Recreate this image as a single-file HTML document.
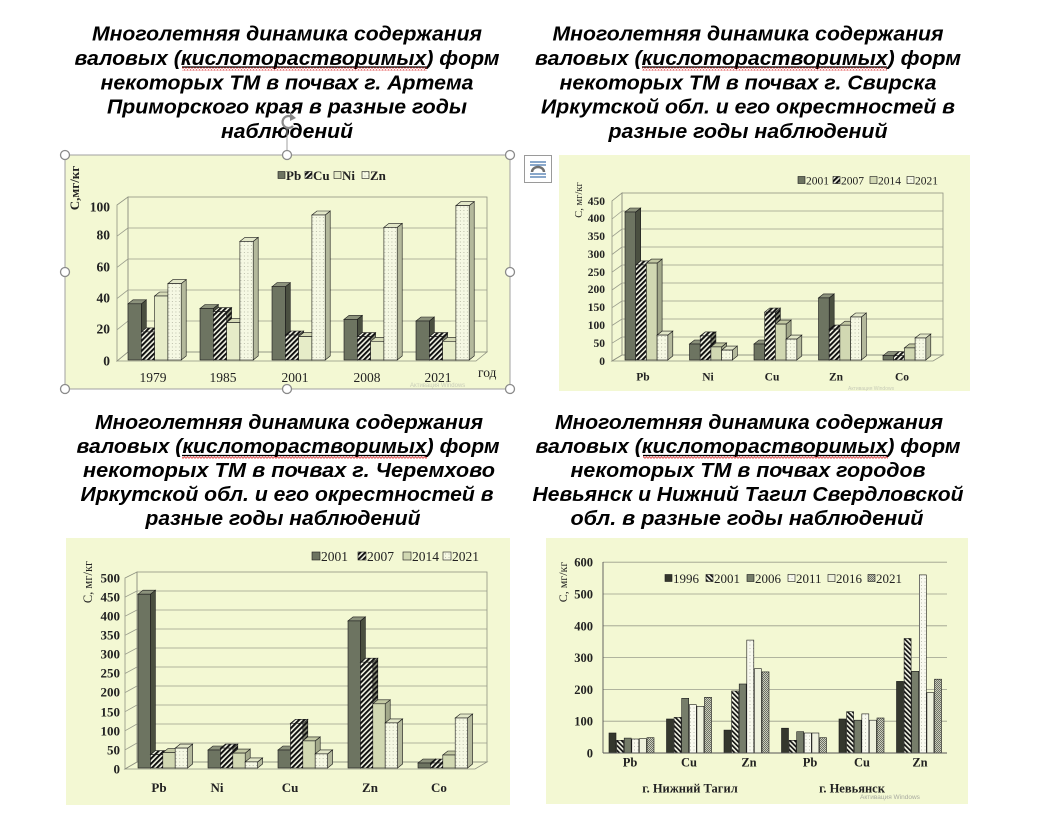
<!DOCTYPE html>
<html><head><meta charset="utf-8"><style>
html,body{margin:0;padding:0;background:#fff;}
svg{display:block;}
.ttl{font-family:"Liberation Sans",Arial,sans-serif;font-weight:bold;font-style:italic;font-size:20px;fill:#000;}
.sf{font-family:"Liberation Serif","Times New Roman",serif;fill:#222;}
.b{font-weight:bold;}
.bar polygon,.bar rect{stroke:#1a1a1a;stroke-width:0.6;}
.df{fill:#6d7461}.ds{fill:#4a4f40}.dt{fill:#8c927c}
.hf{fill:url(#hatch)}.hs{fill:url(#hatchS)}.ht{fill:url(#hatch)}
.nf{fill:#e6ecc8}.ns{fill:#b9bea0}.nt{fill:#d6dbb7}
.lf{fill:#d1d8b2}.ls{fill:#a3a98b}.lt{fill:#c2c8a3}
.of{fill:url(#dots)}.os{fill:#b4b99c}.ot{fill:#e2e7c8}
.c1{fill:#34372d}.c2{fill:url(#hatch4)}.c3{fill:#767d6a}.c4{fill:url(#dots4)}.c5{fill:#eef1dd}.c6{fill:url(#chk)}
.wall{fill:none;stroke:#8f9282;stroke-width:0.8;}
.grid{stroke:#9a9d8c;stroke-width:0.8;}
</style></head><body>
<svg width="1052" height="835" viewBox="0 0 1052 835" xmlns="http://www.w3.org/2000/svg">
<defs>
<pattern id="hatch" width="3.6" height="3.6" patternUnits="userSpaceOnUse" patternTransform="rotate(45)"><rect width="3.6" height="3.6" fill="#f4f6e6"/><rect width="2" height="3.6" fill="#111"/></pattern>
<pattern id="hatchS" width="3.6" height="3.6" patternUnits="userSpaceOnUse" patternTransform="rotate(45)"><rect width="3.6" height="3.6" fill="#8a8e7a"/><rect width="2" height="3.6" fill="#111"/></pattern>
<pattern id="hatch4" width="3.4" height="3.4" patternUnits="userSpaceOnUse" patternTransform="rotate(-45)"><rect width="3.4" height="3.4" fill="#f4f6e6"/><rect width="1.7" height="3.4" fill="#111"/></pattern>
<pattern id="dots" width="3.5" height="3.5" patternUnits="userSpaceOnUse"><rect width="3.5" height="3.5" fill="#f5f8e3"/><circle cx="1" cy="1" r="0.45" fill="#a3a692"/></pattern>
<pattern id="dots4" width="3.5" height="3.5" patternUnits="userSpaceOnUse"><rect width="3.5" height="3.5" fill="#f8f9ee"/><circle cx="1" cy="1" r="0.45" fill="#a6a89c"/></pattern>
<pattern id="chk" width="2" height="2" patternUnits="userSpaceOnUse"><rect width="2" height="2" fill="#c9ccbd"/><rect width="1" height="1" fill="#6e7164"/><rect x="1" y="1" width="1" height="1" fill="#6e7164"/></pattern>
<pattern id="wavy" width="3" height="3" patternUnits="userSpaceOnUse"><path d="M0,2.5 L1.5,0.6 L3,2.5" stroke="#e03030" fill="none" stroke-width="0.7"/></pattern>
</defs>

<!-- ===== TITLES ===== -->
<g class="ttl" text-anchor="middle">
<text x="287" y="40.5" textLength="390" lengthAdjust="spacingAndGlyphs">Многолетняя динамика содержания</text>
<text x="287" y="64.9" textLength="425" lengthAdjust="spacingAndGlyphs">валовых (кислоторастворимых) форм</text>
<text x="287" y="89.3" textLength="373" lengthAdjust="spacingAndGlyphs">некоторых ТМ в почвах г. Артема</text>
<text x="287" y="113.7" textLength="360" lengthAdjust="spacingAndGlyphs">Приморского края в разные годы</text>
<text x="287" y="138.1" textLength="132" lengthAdjust="spacingAndGlyphs">наблюдений</text>

<text x="748" y="40.5" textLength="391" lengthAdjust="spacingAndGlyphs">Многолетняя динамика содержания</text>
<text x="748" y="64.9" textLength="426" lengthAdjust="spacingAndGlyphs">валовых (кислоторастворимых) форм</text>
<text x="748" y="89.3" textLength="377" lengthAdjust="spacingAndGlyphs">некоторых ТМ в почвах г. Свирска</text>
<text x="748" y="113.7" textLength="414" lengthAdjust="spacingAndGlyphs">Иркутской обл. и его окрестностей в</text>
<text x="748" y="138.1" textLength="279" lengthAdjust="spacingAndGlyphs">разные годы наблюдений</text>

<text x="289" y="429" textLength="388" lengthAdjust="spacingAndGlyphs">Многолетняя динамика содержания</text>
<text x="288" y="453" textLength="423" lengthAdjust="spacingAndGlyphs">валовых (кислоторастворимых) форм</text>
<text x="289" y="477" textLength="412" lengthAdjust="spacingAndGlyphs">некоторых ТМ в почвах г. Черемхово</text>
<text x="287" y="501" textLength="413" lengthAdjust="spacingAndGlyphs">Иркутской обл. и его окрестностей в</text>
<text x="283" y="525" textLength="275" lengthAdjust="spacingAndGlyphs">разные годы наблюдений</text>

<text x="749" y="429" textLength="388" lengthAdjust="spacingAndGlyphs">Многолетняя динамика содержания</text>
<text x="748" y="453" textLength="425" lengthAdjust="spacingAndGlyphs">валовых (кислоторастворимых) форм</text>
<text x="748" y="477" textLength="355" lengthAdjust="spacingAndGlyphs">некоторых ТМ в почвах городов</text>
<text x="748" y="501" textLength="431" lengthAdjust="spacingAndGlyphs">Невьянск и Нижний Тагил Свердловской</text>
<text x="747" y="525" textLength="353" lengthAdjust="spacingAndGlyphs">обл. в разные годы наблюдений</text>
</g>
<!-- underlines -->
<g stroke="#000" stroke-width="1.2">
<line x1="182" y1="67" x2="427" y2="67"/>
<line x1="642" y1="67" x2="887" y2="67"/>
<line x1="182" y1="455.5" x2="427" y2="455.5"/>
<line x1="643" y1="455.5" x2="887" y2="455.5"/>
</g>
<rect x="182" y="67.5" width="245" height="3" fill="url(#wavy)"/>
<rect x="642" y="67.5" width="245" height="3" fill="url(#wavy)"/>
<rect x="182" y="456" width="245" height="3" fill="url(#wavy)"/>
<rect x="643" y="456" width="245" height="3" fill="url(#wavy)"/>

<!-- ===== CHART 1 (Artem) ===== -->
<rect x="65" y="155" width="445" height="234" fill="#f3f8d3"/>
<polygon class="wall" points="117,361 117,205 128,197 128,352"/>
<rect class="wall" x="128" y="197" width="359" height="155"/>
<polygon class="wall" points="117,361 128,352 487,352 476,361"/>
<g class="grid">
<line x1="128" y1="321" x2="487" y2="321"/><line x1="128" y1="290" x2="487" y2="290"/>
<line x1="128" y1="259" x2="487" y2="259"/><line x1="128" y1="228" x2="487" y2="228"/>
<line x1="117" y1="329.8" x2="128" y2="321"/><line x1="117" y1="298.6" x2="128" y2="290"/>
<line x1="117" y1="267.4" x2="128" y2="259"/><line x1="117" y1="236.2" x2="128" y2="228"/>
</g>
<g class="bar">
<g transform="translate(128,360)"><polygon class="ds" points="13.3,-56.2 18.3,-60.2 18.3,-4 13.3,0"/><polygon class="dt" points="0,-56.2 5,-60.2 18.3,-60.2 13.3,-56.2"/><rect class="df" x="0" y="-56.2" width="13.3" height="56.2"/></g>
<g transform="translate(141.3,360)"><polygon class="hs" points="13.3,-28.1 18.3,-32.1 18.3,-4 13.3,0"/><polygon class="ht" points="0,-28.1 5,-32.1 18.3,-32.1 13.3,-28.1"/><rect class="hf" x="0" y="-28.1" width="13.3" height="28.1"/></g>
<g transform="translate(154.6,360)"><polygon class="ns" points="13.3,-64 18.3,-68 18.3,-4 13.3,0"/><polygon class="nt" points="0,-64 5,-68 18.3,-68 13.3,-64"/><rect class="nf" x="0" y="-64" width="13.3" height="64"/></g>
<g transform="translate(167.9,360)"><polygon class="os" points="13.3,-76.4 18.3,-80.4 18.3,-4 13.3,0"/><polygon class="ot" points="0,-76.4 5,-80.4 18.3,-80.4 13.3,-76.4"/><rect class="of" x="0" y="-76.4" width="13.3" height="76.4"/></g>

<g transform="translate(200,360)"><polygon class="ds" points="13.3,-51.5 18.3,-55.5 18.3,-4 13.3,0"/><polygon class="dt" points="0,-51.5 5,-55.5 18.3,-55.5 13.3,-51.5"/><rect class="df" x="0" y="-51.5" width="13.3" height="51.5"/></g>
<g transform="translate(213.3,360)"><polygon class="hs" points="13.3,-48.4 18.3,-52.4 18.3,-4 13.3,0"/><polygon class="ht" points="0,-48.4 5,-52.4 18.3,-52.4 13.3,-48.4"/><rect class="hf" x="0" y="-48.4" width="13.3" height="48.4"/></g>
<g transform="translate(226.6,360)"><polygon class="ns" points="13.3,-37.4 18.3,-41.4 18.3,-4 13.3,0"/><polygon class="nt" points="0,-37.4 5,-41.4 18.3,-41.4 13.3,-37.4"/><rect class="nf" x="0" y="-37.4" width="13.3" height="37.4"/></g>
<g transform="translate(239.9,360)"><polygon class="os" points="13.3,-118.6 18.3,-122.6 18.3,-4 13.3,0"/><polygon class="ot" points="0,-118.6 5,-122.6 18.3,-122.6 13.3,-118.6"/><rect class="of" x="0" y="-118.6" width="13.3" height="118.6"/></g>

<g transform="translate(272,360)"><polygon class="ds" points="13.3,-73.3 18.3,-77.3 18.3,-4 13.3,0"/><polygon class="dt" points="0,-73.3 5,-77.3 18.3,-77.3 13.3,-73.3"/><rect class="df" x="0" y="-73.3" width="13.3" height="73.3"/></g>
<g transform="translate(285.3,360)"><polygon class="hs" points="13.3,-25 18.3,-29 18.3,-4 13.3,0"/><polygon class="ht" points="0,-25 5,-29 18.3,-29 13.3,-25"/><rect class="hf" x="0" y="-25" width="13.3" height="25"/></g>
<g transform="translate(298.6,360)"><polygon class="ns" points="13.3,-23.4 18.3,-27.4 18.3,-4 13.3,0"/><polygon class="nt" points="0,-23.4 5,-27.4 18.3,-27.4 13.3,-23.4"/><rect class="nf" x="0" y="-23.4" width="13.3" height="23.4"/></g>
<g transform="translate(311.9,360)"><polygon class="os" points="13.3,-145 18.3,-149 18.3,-4 13.3,0"/><polygon class="ot" points="0,-145 5,-149 18.3,-149 13.3,-145"/><rect class="of" x="0" y="-145" width="13.3" height="145"/></g>

<g transform="translate(344,360)"><polygon class="ds" points="13.3,-40.6 18.3,-44.6 18.3,-4 13.3,0"/><polygon class="dt" points="0,-40.6 5,-44.6 18.3,-44.6 13.3,-40.6"/><rect class="df" x="0" y="-40.6" width="13.3" height="40.6"/></g>
<g transform="translate(357.3,360)"><polygon class="hs" points="13.3,-23.4 18.3,-27.4 18.3,-4 13.3,0"/><polygon class="ht" points="0,-23.4 5,-27.4 18.3,-27.4 13.3,-23.4"/><rect class="hf" x="0" y="-23.4" width="13.3" height="23.4"/></g>
<g transform="translate(370.6,360)"><polygon class="ns" points="13.3,-18.7 18.3,-22.7 18.3,-4 13.3,0"/><polygon class="nt" points="0,-18.7 5,-22.7 18.3,-22.7 13.3,-18.7"/><rect class="nf" x="0" y="-18.7" width="13.3" height="18.7"/></g>
<g transform="translate(383.9,360)"><polygon class="os" points="13.3,-132.6 18.3,-136.6 18.3,-4 13.3,0"/><polygon class="ot" points="0,-132.6 5,-136.6 18.3,-136.6 13.3,-132.6"/><rect class="of" x="0" y="-132.6" width="13.3" height="132.6"/></g>

<g transform="translate(416,360)"><polygon class="ds" points="13.3,-39 18.3,-43 18.3,-4 13.3,0"/><polygon class="dt" points="0,-39 5,-43 18.3,-43 13.3,-39"/><rect class="df" x="0" y="-39" width="13.3" height="39"/></g>
<g transform="translate(429.3,360)"><polygon class="hs" points="13.3,-23.4 18.3,-27.4 18.3,-4 13.3,0"/><polygon class="ht" points="0,-23.4 5,-27.4 18.3,-27.4 13.3,-23.4"/><rect class="hf" x="0" y="-23.4" width="13.3" height="23.4"/></g>
<g transform="translate(442.6,360)"><polygon class="ns" points="13.3,-18.7 18.3,-22.7 18.3,-4 13.3,0"/><polygon class="nt" points="0,-18.7 5,-22.7 18.3,-22.7 13.3,-18.7"/><rect class="nf" x="0" y="-18.7" width="13.3" height="18.7"/></g>
<g transform="translate(455.9,360)"><polygon class="os" points="13.3,-154.4 18.3,-158.4 18.3,-4 13.3,0"/><polygon class="ot" points="0,-154.4 5,-158.4 18.3,-158.4 13.3,-154.4"/><rect class="of" x="0" y="-154.4" width="13.3" height="154.4"/></g>
</g>
<g class="sf b" font-size="13.5" text-anchor="end">
<text x="110" y="365.5">0</text><text x="110" y="333.5">20</text><text x="110" y="302.5">40</text>
<text x="110" y="271.5">60</text><text x="110" y="239.5">80</text><text x="110" y="211.5">100</text>
</g>
<g class="sf" font-size="13.5" text-anchor="middle">
<text x="153" y="382">1979</text><text x="223" y="382">1985</text><text x="295" y="382">2001</text>
<text x="367" y="382">2008</text><text x="438" y="382">2021</text>
</g>
<text class="sf" font-size="13.5" x="478" y="377">год</text>
<text class="sf b" font-size="13" transform="translate(79,188) rotate(-90)" text-anchor="middle">С,мг/кг</text>
<g class="bar">
<rect class="df" x="278" y="171.5" width="7" height="7"/>
<rect class="hf" x="305" y="171.5" width="7" height="7"/>
<rect class="nf" x="334" y="171.5" width="7" height="7"/>
<rect class="of" x="362" y="171.5" width="7" height="7"/>
</g>
<g class="sf b" font-size="13">
<text x="286" y="180">Pb</text><text x="313" y="180">Cu</text><text x="342" y="180">Ni</text><text x="370" y="180">Zn</text>
</g>
<text x="410" y="387" font-family="Liberation Sans,sans-serif" font-size="6" fill="#c8ccb8">Активация Windows</text>
<!-- selection frame -->
<rect x="65" y="155" width="445" height="234" fill="none" stroke="#a0a0a0" stroke-width="1"/>
<line x1="287" y1="128" x2="287" y2="155" stroke="#a0a0a0" stroke-width="1"/>
<g fill="#fff" stroke="#8a8a8a" stroke-width="1.3">
<circle cx="65" cy="155" r="4.5"/><circle cx="287" cy="155" r="4.5"/><circle cx="510" cy="155" r="4.5"/>
<circle cx="65" cy="272" r="4.5"/><circle cx="510" cy="272" r="4.5"/>
<circle cx="65" cy="389" r="4.5"/><circle cx="287" cy="389" r="4.5"/><circle cx="510" cy="389" r="4.5"/>
</g>
<g fill="none" stroke="#8a8a8a" stroke-width="2.2">
<path d="M293,118 A6,6 0 1 0 293,126"/>
</g>
<polygon points="290,113 296,118 290,121" fill="#8a8a8a"/>

<!-- ===== CHART 2 (Svirsk) ===== -->
<rect x="524.5" y="155.5" width="27" height="27" fill="#fff" stroke="#9a9a9a" stroke-width="1"/>
<g stroke="#3c6ea8" stroke-width="1.2">
<line x1="530" y1="162" x2="546" y2="162"/><line x1="530" y1="165" x2="546" y2="165"/>
<line x1="530" y1="174" x2="546" y2="174"/><line x1="530" y1="177" x2="546" y2="177"/>
</g>
<path d="M532,172 A6,5 0 0 1 544,172" fill="none" stroke="#707070" stroke-width="2.5"/>

<rect x="559" y="155" width="411" height="236" fill="#f3f8d3"/>
<polygon class="wall" points="612,361 612,201 622,193 622,355"/>
<rect class="wall" x="622" y="193" width="321" height="162"/>
<polygon class="wall" points="612,361 622,355 943,355 933,361"/>
<g class="grid">
<line x1="622" y1="337" x2="943" y2="337"/><line x1="622" y1="319" x2="943" y2="319"/>
<line x1="622" y1="301" x2="943" y2="301"/><line x1="622" y1="283" x2="943" y2="283"/>
<line x1="622" y1="265" x2="943" y2="265"/><line x1="622" y1="247" x2="943" y2="247"/>
<line x1="622" y1="229" x2="943" y2="229"/><line x1="622" y1="211" x2="943" y2="211"/>
<line x1="612" y1="343.2" x2="622" y2="337"/><line x1="612" y1="325.5" x2="622" y2="319"/>
<line x1="612" y1="307.7" x2="622" y2="301"/><line x1="612" y1="290" x2="622" y2="283"/>
<line x1="612" y1="272.2" x2="622" y2="265"/><line x1="612" y1="254.5" x2="622" y2="247"/>
<line x1="612" y1="236.7" x2="622" y2="229"/><line x1="612" y1="219" x2="622" y2="211"/>
</g>
<g class="bar">
<g transform="translate(625,360)"><polygon class="ds" points="10.7,-148 15.7,-152 15.7,-4 10.7,0"/><polygon class="dt" points="0,-148 5,-152 15.7,-152 10.7,-148"/><rect class="df" x="0" y="-148" width="10.7" height="148"/></g>
<g transform="translate(635.7,360)"><polygon class="hs" points="10.7,-95.1 15.7,-99.1 15.7,-4 10.7,0"/><polygon class="ht" points="0,-95.1 5,-99.1 15.7,-99.1 10.7,-95.1"/><rect class="hf" x="0" y="-95.1" width="10.7" height="95.1"/></g>
<g transform="translate(646.4,360)"><polygon class="ls" points="10.7,-96.9 15.7,-100.9 15.7,-4 10.7,0"/><polygon class="lt" points="0,-96.9 5,-100.9 15.7,-100.9 10.7,-96.9"/><rect class="lf" x="0" y="-96.9" width="10.7" height="96.9"/></g>
<g transform="translate(657.1,360)"><polygon class="os" points="10.7,-24.9 15.7,-28.9 15.7,-4 10.7,0"/><polygon class="ot" points="0,-24.9 5,-28.9 15.7,-28.9 10.7,-24.9"/><rect class="of" x="0" y="-24.9" width="10.7" height="24.9"/></g>

<g transform="translate(689.5,360)"><polygon class="ds" points="10.7,-16 15.7,-20 15.7,-4 10.7,0"/><polygon class="dt" points="0,-16 5,-20 15.7,-20 10.7,-16"/><rect class="df" x="0" y="-16" width="10.7" height="16"/></g>
<g transform="translate(700.2,360)"><polygon class="hs" points="10.7,-24.1 15.7,-28.1 15.7,-4 10.7,0"/><polygon class="ht" points="0,-24.1 5,-28.1 15.7,-28.1 10.7,-24.1"/><rect class="hf" x="0" y="-24.1" width="10.7" height="24.1"/></g>
<g transform="translate(710.9,360)"><polygon class="ls" points="10.7,-13.1 15.7,-17.1 15.7,-4 10.7,0"/><polygon class="lt" points="0,-13.1 5,-17.1 15.7,-17.1 10.7,-13.1"/><rect class="lf" x="0" y="-13.1" width="10.7" height="13.1"/></g>
<g transform="translate(721.6,360)"><polygon class="os" points="10.7,-9.9 15.7,-13.9 15.7,-4 10.7,0"/><polygon class="ot" points="0,-9.9 5,-13.9 15.7,-13.9 10.7,-9.9"/><rect class="of" x="0" y="-9.9" width="10.7" height="9.9"/></g>

<g transform="translate(754,360)"><polygon class="ds" points="10.7,-16 15.7,-20 15.7,-4 10.7,0"/><polygon class="dt" points="0,-16 5,-20 15.7,-20 10.7,-16"/><rect class="df" x="0" y="-16" width="10.7" height="16"/></g>
<g transform="translate(764.7,360)"><polygon class="hs" points="10.7,-47.9 15.7,-51.9 15.7,-4 10.7,0"/><polygon class="ht" points="0,-47.9 5,-51.9 15.7,-51.9 10.7,-47.9"/><rect class="hf" x="0" y="-47.9" width="10.7" height="47.9"/></g>
<g transform="translate(775.4,360)"><polygon class="ls" points="10.7,-35.9 15.7,-39.9 15.7,-4 10.7,0"/><polygon class="lt" points="0,-35.9 5,-39.9 15.7,-39.9 10.7,-35.9"/><rect class="lf" x="0" y="-35.9" width="10.7" height="35.9"/></g>
<g transform="translate(786.1,360)"><polygon class="os" points="10.7,-20.9 15.7,-24.9 15.7,-4 10.7,0"/><polygon class="ot" points="0,-20.9 5,-24.9 15.7,-24.9 10.7,-20.9"/><rect class="of" x="0" y="-20.9" width="10.7" height="20.9"/></g>

<g transform="translate(818.5,360)"><polygon class="ds" points="10.7,-62.1 15.7,-66.1 15.7,-4 10.7,0"/><polygon class="dt" points="0,-62.1 5,-66.1 15.7,-66.1 10.7,-62.1"/><rect class="df" x="0" y="-62.1" width="10.7" height="62.1"/></g>
<g transform="translate(829.2,360)"><polygon class="hs" points="10.7,-30.9 15.7,-34.9 15.7,-4 10.7,0"/><polygon class="ht" points="0,-30.9 5,-34.9 15.7,-34.9 10.7,-30.9"/><rect class="hf" x="0" y="-30.9" width="10.7" height="30.9"/></g>
<g transform="translate(839.9,360)"><polygon class="ls" points="10.7,-34.8 15.7,-38.8 15.7,-4 10.7,0"/><polygon class="lt" points="0,-34.8 5,-38.8 15.7,-38.8 10.7,-34.8"/><rect class="lf" x="0" y="-34.8" width="10.7" height="34.8"/></g>
<g transform="translate(850.6,360)"><polygon class="os" points="10.7,-43 15.7,-47 15.7,-4 10.7,0"/><polygon class="ot" points="0,-43 5,-47 15.7,-47 10.7,-43"/><rect class="of" x="0" y="-43" width="10.7" height="43"/></g>

<g transform="translate(883,360)"><polygon class="ds" points="10.7,-4.3 15.7,-8.3 15.7,-4 10.7,0"/><polygon class="dt" points="0,-4.3 5,-8.3 15.7,-8.3 10.7,-4.3"/><rect class="df" x="0" y="-4.3" width="10.7" height="4.3"/></g>
<g transform="translate(893.7,360)"><polygon class="hs" points="10.7,-4.3 15.7,-8.3 15.7,-4 10.7,0"/><polygon class="ht" points="0,-4.3 5,-8.3 15.7,-8.3 10.7,-4.3"/><rect class="hf" x="0" y="-4.3" width="10.7" height="4.3"/></g>
<g transform="translate(904.4,360)"><polygon class="ls" points="10.7,-12.1 15.7,-16.1 15.7,-4 10.7,0"/><polygon class="lt" points="0,-12.1 5,-16.1 15.7,-16.1 10.7,-12.1"/><rect class="lf" x="0" y="-12.1" width="10.7" height="12.1"/></g>
<g transform="translate(915.1,360)"><polygon class="os" points="10.7,-22 15.7,-26 15.7,-4 10.7,0"/><polygon class="ot" points="0,-22 5,-26 15.7,-26 10.7,-22"/><rect class="of" x="0" y="-22" width="10.7" height="22"/></g>
</g>
<g class="sf b" font-size="11.5" text-anchor="end">
<text x="605" y="365">0</text><text x="605" y="347">50</text><text x="605" y="329">100</text>
<text x="605" y="311">150</text><text x="605" y="293">200</text><text x="605" y="276">250</text>
<text x="605" y="258">300</text><text x="605" y="240">350</text><text x="605" y="222">400</text><text x="605" y="205">450</text>
</g>
<g class="sf b" font-size="11.5" text-anchor="middle">
<text x="643" y="380.5">Pb</text><text x="708" y="380.5">Ni</text><text x="772" y="380.5">Cu</text>
<text x="836" y="380.5">Zn</text><text x="902" y="380.5">Co</text>
</g>
<text class="sf" font-size="10.5" transform="translate(582,200) rotate(-90)" text-anchor="middle">С, мг/кг</text>
<g class="bar">
<rect class="df" x="798" y="176.5" width="7" height="7"/>
<rect class="hf" x="833" y="176.5" width="7" height="7"/>
<rect class="lf" x="870" y="176.5" width="7" height="7"/>
<rect class="of" x="907" y="176.5" width="7" height="7"/>
</g>
<g class="sf" font-size="11.5">
<text x="806" y="184.5">2001</text><text x="841" y="184.5">2007</text><text x="878" y="184.5">2014</text><text x="915" y="184.5">2021</text>
</g>
<text x="848" y="390" font-family="Liberation Sans,sans-serif" font-size="5" fill="#c8ccb8">Активация Windows</text>

<!-- ===== CHART 3 (Cheremkhovo) ===== -->
<rect x="66" y="538" width="444" height="267" fill="#f3f8d3"/>
<polygon class="wall" points="125,769 125,578 137,572 137,762"/>
<rect class="wall" x="137" y="572" width="350" height="190"/>
<polygon class="wall" points="125,769 137,762 487,762 475,769"/>
<g class="grid">
<line x1="137" y1="743" x2="487" y2="743"/><line x1="137" y1="724" x2="487" y2="724"/>
<line x1="137" y1="705" x2="487" y2="705"/><line x1="137" y1="686" x2="487" y2="686"/>
<line x1="137" y1="667" x2="487" y2="667"/><line x1="137" y1="648" x2="487" y2="648"/>
<line x1="137" y1="629" x2="487" y2="629"/><line x1="137" y1="610" x2="487" y2="610"/>
<line x1="137" y1="591" x2="487" y2="591"/>
<line x1="125" y1="749.9" x2="137" y2="743"/><line x1="125" y1="730.8" x2="137" y2="724"/>
<line x1="125" y1="711.7" x2="137" y2="705"/><line x1="125" y1="692.6" x2="137" y2="686"/>
<line x1="125" y1="673.5" x2="137" y2="667"/><line x1="125" y1="654.4" x2="137" y2="648"/>
<line x1="125" y1="635.3" x2="137" y2="629"/><line x1="125" y1="616.2" x2="137" y2="610"/>
<line x1="125" y1="597.1" x2="137" y2="591"/>
</g>
<g class="bar">
<g transform="translate(138,768)"><polygon class="ds" points="12.4,-173.8 17.4,-177.8 17.4,-4 12.4,0"/><polygon class="dt" points="0,-173.8 5,-177.8 17.4,-177.8 12.4,-173.8"/><rect class="df" x="0" y="-173.8" width="12.4" height="173.8"/></g>
<g transform="translate(150.4,768)"><polygon class="hs" points="12.4,-13.4 17.4,-17.4 17.4,-4 12.4,0"/><polygon class="ht" points="0,-13.4 5,-17.4 17.4,-17.4 12.4,-13.4"/><rect class="hf" x="0" y="-13.4" width="12.4" height="13.4"/></g>
<g transform="translate(162.8,768)"><polygon class="ls" points="12.4,-15.3 17.4,-19.3 17.4,-4 12.4,0"/><polygon class="lt" points="0,-15.3 5,-19.3 17.4,-19.3 12.4,-15.3"/><rect class="lf" x="0" y="-15.3" width="12.4" height="15.3"/></g>
<g transform="translate(175.2,768)"><polygon class="os" points="12.4,-19.9 17.4,-23.9 17.4,-4 12.4,0"/><polygon class="ot" points="0,-19.9 5,-23.9 17.4,-23.9 12.4,-19.9"/><rect class="of" x="0" y="-19.9" width="12.4" height="19.9"/></g>

<g transform="translate(208,768)"><polygon class="ds" points="12.4,-18 17.4,-22 17.4,-4 12.4,0"/><polygon class="dt" points="0,-18 5,-22 17.4,-22 12.4,-18"/><rect class="df" x="0" y="-18" width="12.4" height="18"/></g>
<g transform="translate(220.4,768)"><polygon class="hs" points="12.4,-19.9 17.4,-23.9 17.4,-4 12.4,0"/><polygon class="ht" points="0,-19.9 5,-23.9 17.4,-23.9 12.4,-19.9"/><rect class="hf" x="0" y="-19.9" width="12.4" height="19.9"/></g>
<g transform="translate(232.8,768)"><polygon class="ls" points="12.4,-14.9 17.4,-18.9 17.4,-4 12.4,0"/><polygon class="lt" points="0,-14.9 5,-18.9 17.4,-18.9 12.4,-14.9"/><rect class="lf" x="0" y="-14.9" width="12.4" height="14.9"/></g>
<g transform="translate(245.2,768)"><polygon class="os" points="12.4,-6.1 17.4,-10.1 17.4,-4 12.4,0"/><polygon class="ot" points="0,-6.1 5,-10.1 17.4,-10.1 12.4,-6.1"/><rect class="of" x="0" y="-6.1" width="12.4" height="6.1"/></g>

<g transform="translate(278,768)"><polygon class="ds" points="12.4,-18 17.4,-22 17.4,-4 12.4,0"/><polygon class="dt" points="0,-18 5,-22 17.4,-22 12.4,-18"/><rect class="df" x="0" y="-18" width="12.4" height="18"/></g>
<g transform="translate(290.4,768)"><polygon class="hs" points="12.4,-44.7 17.4,-48.7 17.4,-4 12.4,0"/><polygon class="ht" points="0,-44.7 5,-48.7 17.4,-48.7 12.4,-44.7"/><rect class="hf" x="0" y="-44.7" width="12.4" height="44.7"/></g>
<g transform="translate(302.8,768)"><polygon class="ls" points="12.4,-27.1 17.4,-31.1 17.4,-4 12.4,0"/><polygon class="lt" points="0,-27.1 5,-31.1 17.4,-31.1 12.4,-27.1"/><rect class="lf" x="0" y="-27.1" width="12.4" height="27.1"/></g>
<g transform="translate(315.2,768)"><polygon class="os" points="12.4,-14.1 17.4,-18.1 17.4,-4 12.4,0"/><polygon class="ot" points="0,-14.1 5,-18.1 17.4,-18.1 12.4,-14.1"/><rect class="of" x="0" y="-14.1" width="12.4" height="14.1"/></g>

<g transform="translate(348,768)"><polygon class="ds" points="12.4,-147.1 17.4,-151.1 17.4,-4 12.4,0"/><polygon class="dt" points="0,-147.1 5,-151.1 17.4,-151.1 12.4,-147.1"/><rect class="df" x="0" y="-147.1" width="12.4" height="147.1"/></g>
<g transform="translate(360.4,768)"><polygon class="hs" points="12.4,-105.8 17.4,-109.8 17.4,-4 12.4,0"/><polygon class="ht" points="0,-105.8 5,-109.8 17.4,-109.8 12.4,-105.8"/><rect class="hf" x="0" y="-105.8" width="12.4" height="105.8"/></g>
<g transform="translate(372.8,768)"><polygon class="ls" points="12.4,-64.2 17.4,-68.2 17.4,-4 12.4,0"/><polygon class="lt" points="0,-64.2 5,-68.2 17.4,-68.2 12.4,-64.2"/><rect class="lf" x="0" y="-64.2" width="12.4" height="64.2"/></g>
<g transform="translate(385.2,768)"><polygon class="os" points="12.4,-45.1 17.4,-49.1 17.4,-4 12.4,0"/><polygon class="ot" points="0,-45.1 5,-49.1 17.4,-49.1 12.4,-45.1"/><rect class="of" x="0" y="-45.1" width="12.4" height="45.1"/></g>

<g transform="translate(418,768)"><polygon class="ds" points="12.4,-5 17.4,-9 17.4,-4 12.4,0"/><polygon class="dt" points="0,-5 5,-9 17.4,-9 12.4,-5"/><rect class="df" x="0" y="-5" width="12.4" height="5"/></g>
<g transform="translate(430.4,768)"><polygon class="hs" points="12.4,-5 17.4,-9 17.4,-4 12.4,0"/><polygon class="ht" points="0,-5 5,-9 17.4,-9 12.4,-5"/><rect class="hf" x="0" y="-5" width="12.4" height="5"/></g>
<g transform="translate(442.8,768)"><polygon class="ls" points="12.4,-13 17.4,-17 17.4,-4 12.4,0"/><polygon class="lt" points="0,-13 5,-17 17.4,-17 12.4,-13"/><rect class="lf" x="0" y="-13" width="12.4" height="13"/></g>
<g transform="translate(455.2,768)"><polygon class="os" points="12.4,-50 17.4,-54 17.4,-4 12.4,0"/><polygon class="ot" points="0,-50 5,-54 17.4,-54 12.4,-50"/><rect class="of" x="0" y="-50" width="12.4" height="50"/></g>
</g>
<g class="sf b" font-size="13" text-anchor="end">
<text x="120" y="773.5">0</text><text x="120" y="754.5">50</text><text x="120" y="735.5">100</text>
<text x="120" y="716.5">150</text><text x="120" y="696.5">200</text><text x="120" y="677.5">250</text>
<text x="120" y="658.5">300</text><text x="120" y="639.5">350</text><text x="120" y="620.5">400</text>
<text x="120" y="601.5">450</text><text x="120" y="582.5">500</text>
</g>
<g class="sf b" font-size="13" text-anchor="middle">
<text x="159" y="792">Pb</text><text x="217" y="792">Ni</text><text x="290" y="792">Cu</text>
<text x="370" y="792">Zn</text><text x="439" y="792">Co</text>
</g>
<text class="sf" font-size="12.5" transform="translate(92,582) rotate(-90)" text-anchor="middle">С, мг/кг</text>
<g class="bar">
<rect class="df" x="312" y="552" width="8" height="8"/>
<rect class="hf" x="358" y="552" width="8" height="8"/>
<rect class="lf" x="403" y="552" width="8" height="8"/>
<rect class="of" x="443" y="552" width="8" height="8"/>
</g>
<g class="sf" font-size="13.5">
<text x="321" y="561">2001</text><text x="367" y="561">2007</text><text x="412" y="561">2014</text><text x="452" y="561">2021</text>
</g>

<!-- ===== CHART 4 (Nevyansk / N. Tagil) ===== -->
<rect x="546" y="538" width="422" height="266" fill="#f3f8d3"/>
<g class="grid" stroke="#8a8c80">
<line x1="603" y1="562.2" x2="947" y2="562.2"/><line x1="603" y1="594" x2="947" y2="594"/>
<line x1="603" y1="625.8" x2="947" y2="625.8"/><line x1="603" y1="657.6" x2="947" y2="657.6"/>
<line x1="603" y1="689.4" x2="947" y2="689.4"/><line x1="603" y1="721.2" x2="947" y2="721.2"/>
</g>
<line x1="603" y1="562" x2="603" y2="753" stroke="#555" stroke-width="0.9"/>
<g class="bar">
<rect class="c1" x="609" y="733" width="7" height="20"/><rect class="c2" x="616.6" y="740.3" width="7" height="12.7"/><rect class="c3" x="624.2" y="738.1" width="7" height="14.9"/><rect class="c4" x="631.8" y="739" width="7" height="14"/><rect class="c5" x="639.4" y="738.7" width="7" height="14.3"/><rect class="c6" x="647" y="737.7" width="7" height="15.3"/>
<rect class="c1" x="666.5" y="719" width="7" height="34"/><rect class="c2" x="674.1" y="717.4" width="7" height="35.6"/><rect class="c3" x="681.7" y="698.3" width="7" height="54.7"/><rect class="c4" x="689.3" y="704.7" width="7" height="48.3"/><rect class="c5" x="696.9" y="706.3" width="7" height="46.7"/><rect class="c6" x="704.5" y="697.3" width="7" height="55.7"/>
<rect class="c1" x="724" y="730.1" width="7" height="22.9"/><rect class="c2" x="731.6" y="691" width="7" height="62"/><rect class="c3" x="739.2" y="684" width="7" height="69"/><rect class="c4" x="746.8" y="640.1" width="7" height="112.9"/><rect class="c5" x="754.4" y="668.7" width="7" height="84.3"/><rect class="c6" x="762" y="671.9" width="7" height="81.1"/>
<rect class="c1" x="781.5" y="728.2" width="7" height="24.8"/><rect class="c2" x="789.1" y="740.3" width="7" height="12.7"/><rect class="c3" x="796.7" y="731.7" width="7" height="21.3"/><rect class="c4" x="804.3" y="733" width="7" height="20"/><rect class="c5" x="811.9" y="733" width="7" height="20"/><rect class="c6" x="819.5" y="737.7" width="7" height="15.3"/>
<rect class="c1" x="839" y="719" width="7" height="34"/><rect class="c2" x="846.6" y="711.7" width="7" height="41.3"/><rect class="c3" x="854.2" y="720.2" width="7" height="32.8"/><rect class="c4" x="861.8" y="713.9" width="7" height="39.1"/><rect class="c5" x="869.4" y="720.2" width="7" height="32.8"/><rect class="c6" x="877" y="718" width="7" height="35"/>
<rect class="c1" x="896.5" y="681.4" width="7" height="71.6"/><rect class="c2" x="904.1" y="638.5" width="7" height="114.5"/><rect class="c3" x="911.7" y="671.3" width="7" height="81.7"/><rect class="c4" x="919.3" y="574.9" width="7" height="178.1"/><rect class="c5" x="926.9" y="692.6" width="7" height="60.4"/><rect class="c6" x="934.5" y="679.2" width="7" height="73.8"/>
</g>
<line x1="603" y1="753" x2="947" y2="753" stroke="#555" stroke-width="1"/>
<g class="sf b" font-size="12.5" text-anchor="end">
<text x="593" y="757.5">0</text><text x="593" y="725.7">100</text><text x="593" y="693.9">200</text>
<text x="593" y="662.1">300</text><text x="593" y="630.3">400</text><text x="593" y="598.5">500</text><text x="593" y="566.7">600</text>
</g>
<g class="sf b" font-size="12.5" text-anchor="middle">
<text x="630" y="766.5">Pb</text><text x="689" y="766.5">Cu</text><text x="749" y="766.5">Zn</text>
<text x="810" y="766.5">Pb</text><text x="862" y="766.5">Cu</text><text x="920" y="766.5">Zn</text>
<text x="690" y="792.5">г. Нижний Тагил</text><text x="852" y="792.5">г. Невьянск</text>
</g>
<text class="sf" font-size="12" transform="translate(567,582) rotate(-90)" text-anchor="middle">С, мг/кг</text>
<g class="bar">
<rect class="c1" x="665" y="574.5" width="7" height="7"/>
<rect class="c2" x="706" y="574.5" width="7" height="7"/>
<rect class="c3" x="747" y="574.5" width="7" height="7"/>
<rect class="c4" x="788" y="574.5" width="7" height="7"/>
<rect class="c5" x="828" y="574.5" width="7" height="7"/>
<rect class="c6" x="868" y="574.5" width="7" height="7"/>
</g>
<g class="sf" font-size="13">
<text x="673" y="583">1996</text><text x="714" y="583">2001</text><text x="755" y="583">2006</text>
<text x="796" y="583">2011</text><text x="836" y="583">2016</text><text x="876" y="583">2021</text>
</g>
<text x="860" y="799" font-family="Liberation Sans,sans-serif" font-size="6.5" fill="#a8aaa0">Активация Windows</text>
</svg>
</body></html>
